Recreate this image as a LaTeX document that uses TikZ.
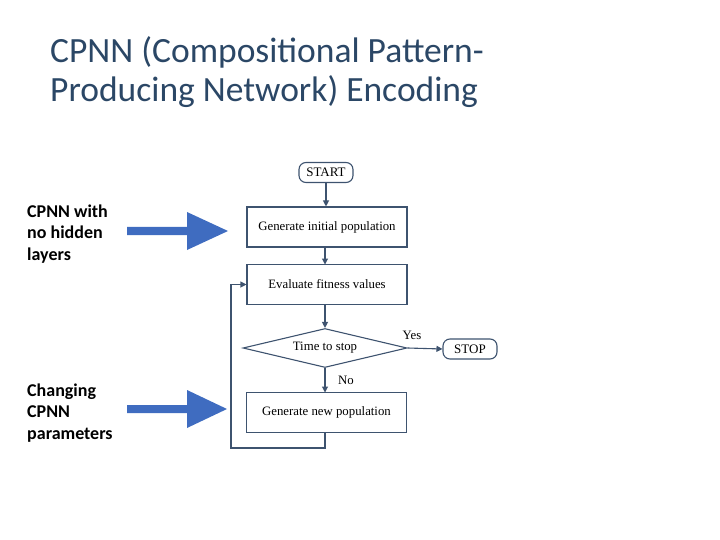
\documentclass[tikz,border=0pt]{standalone}
\usepackage{fontspec}
\setmainfont{Carlito}
\newfontfamily\flowfont{Liberation Serif}
\usetikzlibrary{arrows.meta,shapes.geometric}
\definecolor{titlecol}{HTML}{2B4766}
\definecolor{flowcol}{HTML}{3E536F}
\definecolor{arrowblue}{HTML}{3F6CC0}
\tikzset{
  titletext/.style={anchor=base west,inner sep=0pt,text=titlecol,font=\fontsize{35.5}{40}\selectfont},
  sidetext/.style={anchor=west,inner sep=0pt,font=\bfseries\fontsize{18}{21.6}\selectfont,align=left},
  procbox/.style={draw=flowcol,line width=1.1pt,minimum width=160pt,minimum height=40pt,inner sep=0pt,font=\flowfont\fontsize{12.8}{14}\selectfont},
  termbox/.style={draw=flowcol,line width=1.1pt,rounded corners=7pt,minimum width=54pt,minimum height=20pt,inner sep=0pt,font=\flowfont\fontsize{13}{14}\selectfont},
  decbox/.style={draw=flowcol,line width=1.1pt,diamond,aspect=4.2,minimum width=164pt,minimum height=39pt,inner sep=0pt,font=\flowfont\fontsize{12.8}{14}\selectfont},
  flowline/.style={draw=flowcol,line width=1.1pt},
  flowarrow/.style={flowline,-{Triangle[length=6pt,width=6pt]}},
  flowlabel/.style={inner sep=0pt,font=\flowfont\fontsize{12.8}{14}\selectfont},
  bigarrow/.style={fill=arrowblue,draw=none}
}
\begin{document}
\begin{tikzpicture}[x=1pt,y=-1pt]
\useasboundingbox (0,0) rectangle (720,540);
% title
\node[titletext] (t1) at (50,63) {CPNN (Compositional Pattern-};
\node[titletext] (t2) at (50,102) {Producing Network) Encoding};
% side labels
\node[sidetext] (l1) at (27,234) {CPNN with\\no hidden\\layers};
\node[sidetext] (l2) at (27,413) {Changing\\CPNN\\parameters};
% big arrows
\path[bigarrow] (127,227) -- (187,227) -- (187,212) -- (228,231) -- (187,250) -- (187,235) -- (127,235) -- cycle;
\path[bigarrow] (127,405) -- (187,405) -- (187,390) -- (227,409) -- (187,428) -- (187,413) -- (127,413) -- cycle;
% flowchart
\node[termbox] (start) at (326,172.5) {START};
\node[procbox] (gen) at (327,227) {Generate initial population};
\node[procbox] (eval) at (327,284.5) {Evaluate fitness values};
\node[decbox] (dec) at (325,348) {Time to stop};
\node[termbox] (stop) at (470,349) {STOP};
\node[procbox] (newp) at (326.5,412.5) {Generate new population};
\coordinate (c1) at (325,448);
\coordinate (c2) at (231,448);
\coordinate (c3) at (231,284.5);
\draw[flowarrow] (start) -- (start|-gen.north);
\draw[flowarrow] (325,247) -- (325,264.5);
\draw[flowarrow] (325,304.5) -- (dec.north);
\draw[flowarrow] (dec.east) -- (stop.west);
\draw[flowarrow] (dec.south) -- (325,392.5);
\draw[flowarrow] (325,432.5) -- (c1) -- (c2) -- (c3) -- (eval.west);
\node[flowlabel] (yes) at (412,335) {Yes};
\node[flowlabel] (no) at (346,380) {No};
\end{tikzpicture}
\end{document}
